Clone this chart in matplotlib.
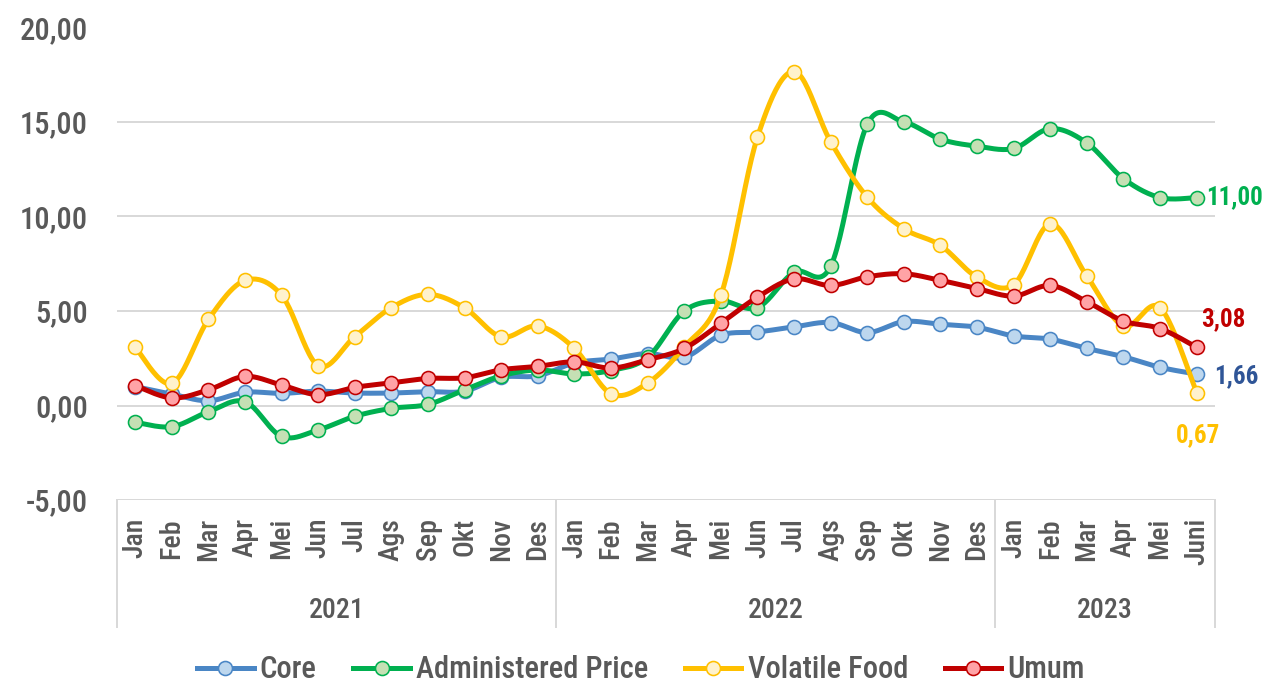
import numpy as np
import matplotlib
matplotlib.use("Agg")
import matplotlib.pyplot as plt
from matplotlib import font_manager as fm
from matplotlib.lines import Line2D
import matplotlib.transforms as mtransforms

# ---------------- data ----------------
months = ["Jan", "Feb", "Mar", "Apr", "Mei", "Jun", "Jul", "Ags", "Sep", "Okt", "Nov", "Des",
          "Jan", "Feb", "Mar", "Apr", "Mei", "Jun", "Jul", "Ags", "Sep", "Okt", "Nov", "Des",
          "Jan", "Feb", "Mar", "Apr", "Mei", "Juni"]
years = ["2021", "2022", "2023"]
year_counts = [12, 12, 6]

core = [1.00, 0.60, 0.25, 0.70, 0.64, 0.76, 0.66, 0.66, 0.73, 0.76, 1.49, 1.57,
        2.25, 2.46, 2.75, 2.55, 3.72, 3.89, 4.16, 4.39, 3.86, 4.44, 4.30, 4.14,
        3.68, 3.51, 3.02, 2.58, 2.02, 1.66]
administered = [-0.89, -1.12, -0.33, 0.20, -1.64, -1.29, -0.57, -0.15, 0.06, 0.83, 1.57, 1.88,
                1.67, 1.85, 2.55, 5.00, 5.53, 5.18, 7.05, 7.37, 14.88, 15.00, 14.09, 13.72,
                13.60, 14.65, 13.89, 12.00, 11.00, 11.00]
volatile = [3.07, 1.17, 4.56, 6.62, 5.83, 2.10, 3.65, 5.18, 5.88, 5.16, 3.63, 4.21,
            3.02, 0.62, 1.19, 3.10, 5.83, 14.21, 17.67, 13.95, 11.02, 9.35, 8.47, 6.79,
            6.40, 9.61, 6.84, 4.20, 5.18, 0.67]
umum = [1.05, 0.40, 0.83, 1.54, 1.08, 0.57, 0.96, 1.20, 1.43, 1.47, 1.89, 2.07,
        2.31, 1.98, 2.42, 3.02, 4.35, 5.74, 6.70, 6.35, 6.81, 6.97, 6.62, 6.19,
        5.79, 6.35, 5.49, 4.47, 4.07, 3.08]

series_names = ["Core", "Administered Price", "Volatile Food", "Umum"]
series_values = [core, administered, volatile, umum]
end_labels = ["1,66", "11,00", "0,67", "3,08"]

yticks = [-5, 0, 5, 10, 15, 20]
ytick_labels = ["-5,00", "0,00", "5,00", "10,00", "15,00", "20,00"]

# ---------------- styles ----------------
line_colors = ["#4A86C5", "#00B050", "#FFC000", "#C00000"]
face_colors = ["#BDD7EE", "#C5E0B4", "#FFF2CC", "#FFA3A6"]
label_colors = ["#2F5597", "#00B050", "#FFC000", "#C00000"]
# label offsets in pixels (dx, dy, ha)
label_offsets = [(17, -2, "left"), (9, 0, "left"), (1, -42, "center"), (4, 28, "left")]
TEXT = "#595959"
GRID = "#D9D9D9"

names = {f.name for f in fm.fontManager.ttflist}
FONT = "DejaVu Sans"
for cand in ["Roboto Condensed", "Liberation Sans Narrow", "Open Sans Condensed", "Roboto"]:
    if cand in names:
        FONT = cand
        break
plt.rcParams["font.family"] = [FONT, "DejaVu Sans"]
WEIGHT = "medium"

DPI = 100
fig = plt.figure(figsize=(12.64, 6.85), dpi=DPI)
W, H = 1264, 685
ax_left, ax_right = 117, 1215
ax_top, ax_bottom = 27.5, 500
ax = fig.add_axes([ax_left / W, 1 - ax_bottom / H, (ax_right - ax_left) / W, (ax_bottom - ax_top) / H])

px = 72.0 / DPI  # pixels -> points


def smooth_curve(x, y, steps=24):
    """Excel-like smoothed line (Catmull-Rom as cubic Bezier)."""
    P = np.column_stack([np.asarray(x, float), np.asarray(y, float)])
    n = len(P)
    out = []
    t = np.linspace(0, 1, steps, endpoint=False)[:, None]
    for i in range(n - 1):
        p0 = P[i - 1] if i > 0 else P[i]
        p1, p2 = P[i], P[i + 1]
        p3 = P[i + 2] if i + 2 < n else P[i + 1]
        c1 = p1 + (p2 - p0) / 6.0
        c2 = p2 - (p3 - p1) / 6.0
        seg = ((1 - t) ** 3) * p1 + 3 * ((1 - t) ** 2) * t * c1 + 3 * (1 - t) * t ** 2 * c2 + t ** 3 * p2
        out.append(seg)
    out.append(P[-1][None, :])
    out = np.vstack(out)
    return out[:, 0], out[:, 1]


xs = np.arange(len(months))
lw = 5 * px
ms = 14 * px
mew = 1.6 * px
handles = []
for i, (name, vals) in enumerate(zip(series_names, series_values)):
    sx, sy = smooth_curve(xs, vals)
    ax.plot(sx, sy, color=line_colors[i], lw=lw, solid_capstyle="round", zorder=3 + 2 * i)
    ax.plot(xs, vals, ls="none", marker="o", ms=ms, mfc=face_colors[i], mec=line_colors[i], mew=mew,
            zorder=4 + 2 * i)
    handles.append(Line2D([], [], color=line_colors[i], lw=lw, marker="o", ms=ms,
                          mfc=face_colors[i], mec=line_colors[i], mew=mew))
    dx, dy, ha = label_offsets[i]
    ax.annotate(end_labels[i], xy=(xs[-1], vals[-1]), xytext=(dx * px, dy * px), textcoords="offset points",
                ha=ha, va="center", fontsize=18, fontweight="bold", color=label_colors[i], zorder=20,
                annotation_clip=False)

ax.set_xlim(-0.5, len(months) - 0.5)
ax.set_ylim(yticks[0], yticks[-1])
ax.set_yticks(yticks)
ax.set_yticklabels(ytick_labels, fontsize=22, color=TEXT, fontweight=WEIGHT)
ax.yaxis.grid(True, color=GRID, lw=2 * px, zorder=0)
ax.set_axisbelow(True)
for s in ax.spines.values():
    s.set_visible(False)
ax.tick_params(axis="y", length=0, pad=29 * px)

ax.set_xticks(xs)
ax.set_xticklabels(months, rotation=90, fontsize=20, color=TEXT, fontweight=WEIGHT)
ax.tick_params(axis="x", length=0, pad=18 * px)

# multi-level category axis
trans = mtransforms.blended_transform_factory(ax.transData, ax.transAxes)
axh = ax_bottom - ax_top
sep_depth = -(627 - ax_bottom) / axh
bounds = np.concatenate([[0], np.cumsum(year_counts)]) - 0.5
for b in bounds:
    ax.plot([b, b], [0, sep_depth], transform=trans, color=GRID, lw=2 * px, clip_on=False, zorder=1)
for j, yr in enumerate(years):
    c = (bounds[j] + bounds[j + 1]) / 2.0
    ax.text(c, -(610 - ax_bottom) / axh, yr, transform=trans, ha="center", va="center",
            fontsize=20, color=TEXT, fontweight=WEIGHT)

leg = fig.legend(handles, series_names, loc="center", bbox_to_anchor=(0.507, 15 / H), ncol=4, frameon=False,
                 fontsize=22, handlelength=1.85, handletextpad=0.2, columnspacing=1.2, labelcolor=TEXT,
                 borderaxespad=0, prop={"weight": WEIGHT, "size": 22})

fig.savefig("out.png", dpi=DPI)
